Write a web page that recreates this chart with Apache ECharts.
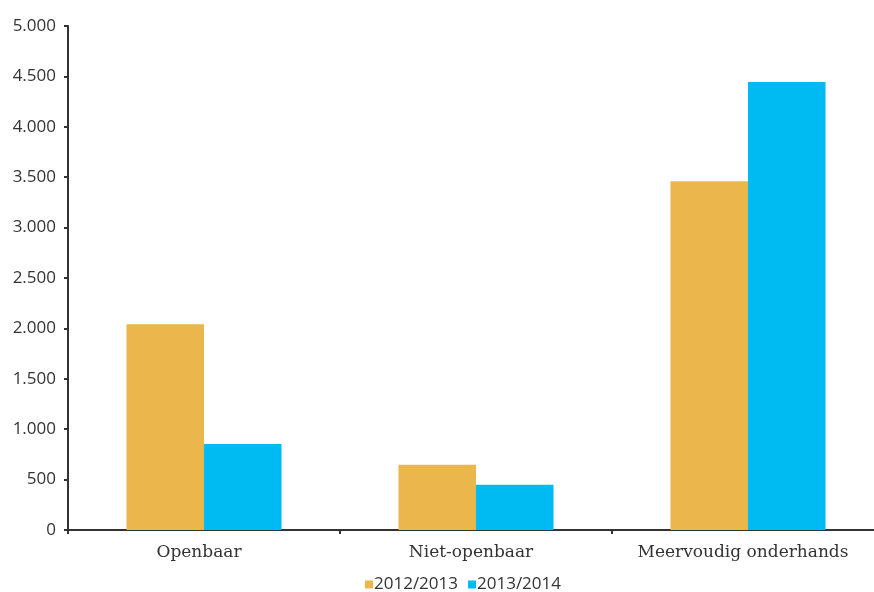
<!DOCTYPE html>
<html><head><meta charset="utf-8">
<script src="https://cdn.jsdelivr.net/npm/echarts@6/dist/echarts.min.js"></script>
<style>html,body{margin:0;padding:0;background:#fff;overflow:hidden}#c{width:884px;height:592px}</style>
</head><body><div id="c"></div>
<script>
const categories = ['Openbaar', 'Niet-openbaar', 'Meervoudig onderhands'];
const series2012 = [2040, 648, 3460];
const series2013 = [852, 448, 4445];
const seriesNames = ['2012/2013', '2013/2014'];

const chart = echarts.init(document.getElementById('c'));
const fmt = v => String(v).replace(/\B(?=(\d{3})+(?!\d))/g, '.');
chart.setOption({
  animation: false,
  grid: {left: 68, right: 0, top: 26, bottom: 62, containLabel: false},
  legend: {
    bottom: -6, left: 360, itemWidth: 8, itemHeight: 8, itemGap: 10,
    icon: 'rect',
    textStyle: {fontFamily: 'Open Sans', fontSize: 17, color: '#333', padding: [0,0,0,-4]},
    data: seriesNames
  },
  xAxis: {
    type: 'category', data: categories,
    axisLine: {lineStyle: {color: '#333', width: 2}},
    axisTick: {show: true, length: 4, lineStyle: {color: '#333', width: 2}},
    axisLabel: {interval: 0, fontFamily: 'DejaVu Serif', fontSize: 17, color: '#333', margin: 14, padding: [0, 10, 0, 0]}
  },
  yAxis: {
    type: 'value', min: 0, max: 5000, interval: 500,
    splitLine: {show: false},
    axisLine: {show: true, lineStyle: {color: '#333', width: 2}},
    axisTick: {show: true, length: 4, lineStyle: {color: '#333', width: 2}},
    axisLabel: {fontFamily: 'Open Sans', fontSize: 17, color: '#333', margin: 12, formatter: fmt}
  },
  series: [
    {name: seriesNames[0], type: 'bar', data: series2012, barWidth: '28.5%', barGap: '0%', itemStyle: {color: '#EBB64B'}},
    {name: seriesNames[1], type: 'bar', data: series2013, barWidth: '28.5%', itemStyle: {color: '#00BAF2'}}
  ]
});
</script></body></html>
